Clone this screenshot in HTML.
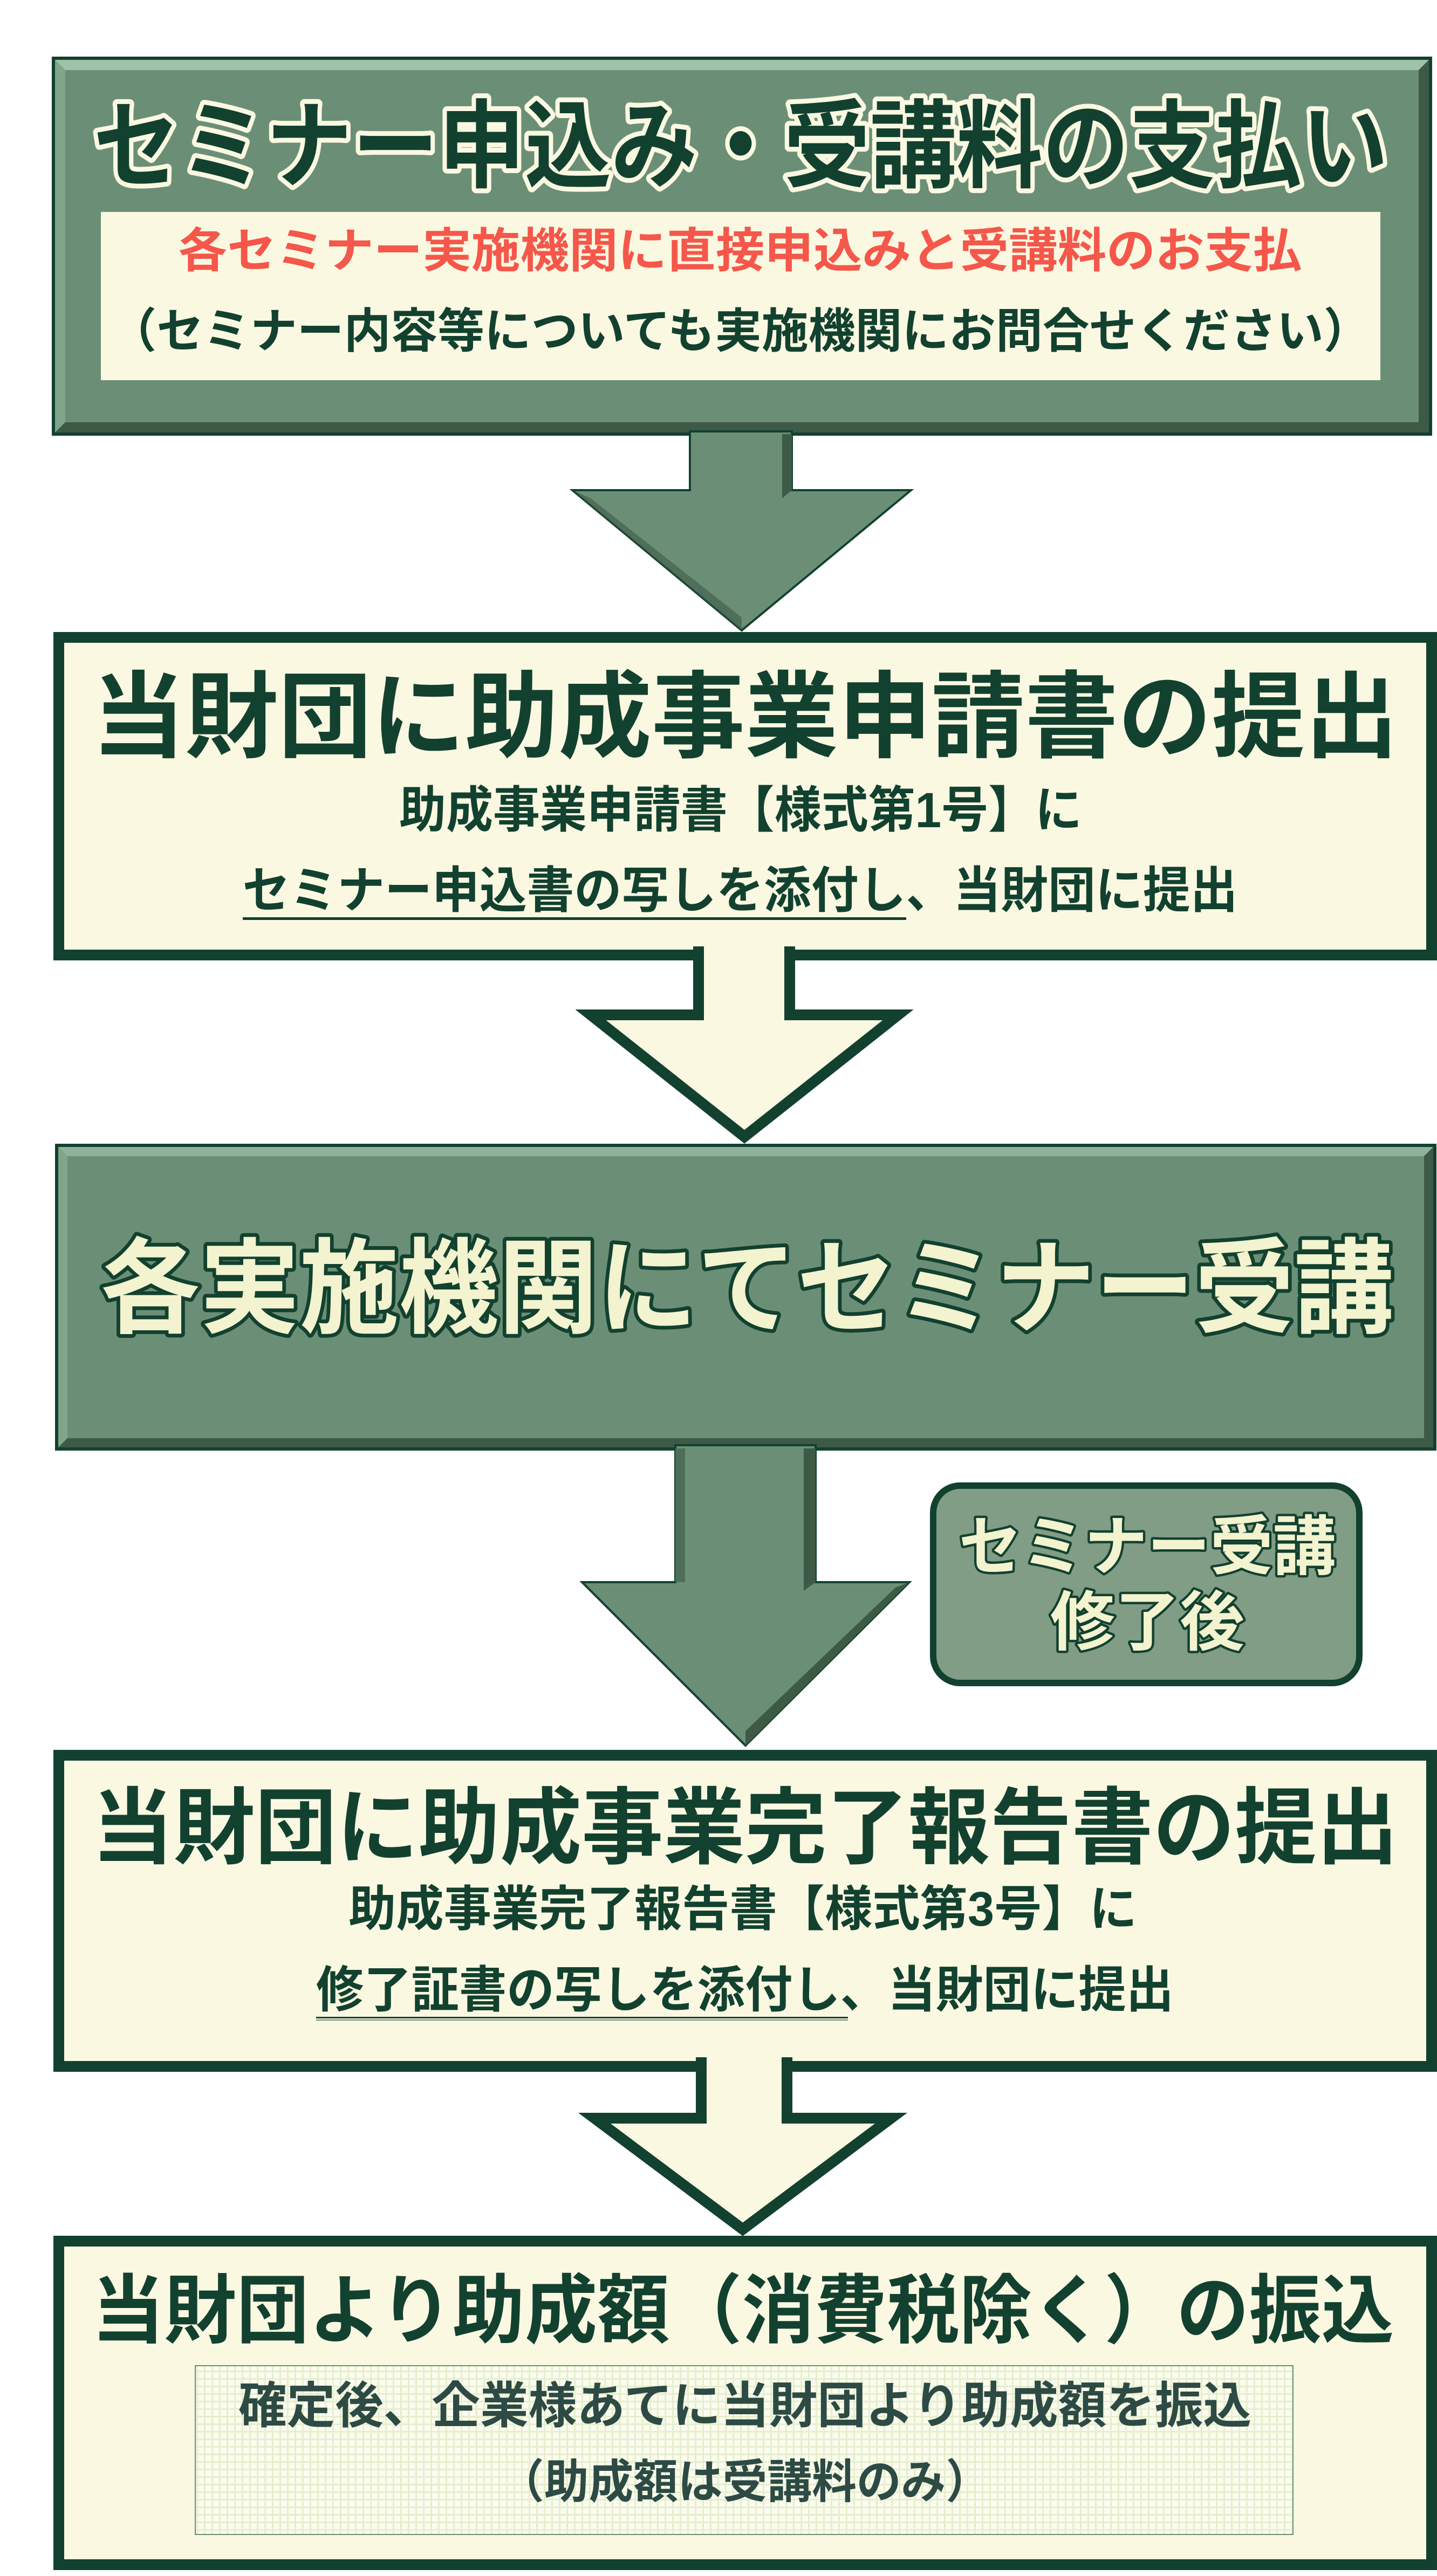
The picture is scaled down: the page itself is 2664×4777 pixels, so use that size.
<!DOCTYPE html>
<html><head><meta charset="utf-8"><style>
html,body{margin:0;padding:0;background:#fff;}
svg{display:block;}
text{font-family:"Liberation Sans","Noto Sans CJK JP",sans-serif;font-weight:700;}
</style></head><body>
<svg width="2664" height="4777" viewBox="0 0 2664 4777" xmlns="http://www.w3.org/2000/svg">
<defs>
<pattern id="grid" width="14" height="14" patternUnits="userSpaceOnUse">
<rect width="14" height="14" fill="#fbfbef"/>
<rect width="14" height="3" fill="#e5efcc"/>
<rect width="3" height="14" fill="#e5efcc"/>
</pattern>
</defs>

<!-- Box 1 -->
<rect x="99" y="108" width="2553" height="697" fill="#6b8f76" stroke="#12412f" stroke-width="6"/>
<polygon points="102,111 2649,111 2630,130 121,130" fill="#9dc3a9"/>
<polygon points="102,111 121,130 121,783 102,802" fill="#7fa58b"/>
<polygon points="2649,111 2649,802 2630,783 2630,130" fill="#3d5a47"/>
<polygon points="102,802 2649,802 2630,783 121,783" fill="#3d5a47"/>
<rect x="187" y="393" width="2372" height="312" fill="#fbf8e2"/>
<text x="1373" y="272" font-size="178" text-anchor="middle" dominant-baseline="central" textLength="2400" lengthAdjust="spacingAndGlyphs" fill="#12412f" stroke="#fbf8e2" stroke-width="18" stroke-linejoin="round" paint-order="stroke">セミナー申込み・受講料の支払い</text>
<text x="1372" y="465" font-size="88" text-anchor="middle" dominant-baseline="central" textLength="2083" lengthAdjust="spacingAndGlyphs" fill="#f5574a" font-weight="400">各セミナー実施機関に直接申込みと受講料のお支払</text>
<text x="1372" y="614" font-size="88" text-anchor="middle" dominant-baseline="central" textLength="2337" lengthAdjust="spacingAndGlyphs" fill="#12412f" font-weight="400">（セミナー内容等についても実施機関にお問合せください）</text>

<!-- Arrow 1 -->
<polygon points="1279,800 1279,909 1061,909 1375,1169 1689,909 1468,909 1468,800" fill="#6b8f76" stroke="#12412f" stroke-width="4"/>
<polygon points="1450,805 1468,805 1468,909 1450,924" fill="#3d5a47"/>
<polygon points="1061,909 1375,1169 1375,1145 1095,924" fill="#3d5a47" opacity="0.6"/>

<!-- Box 2 -->
<rect x="109" y="1182" width="2545" height="589" fill="#fbf8e2" stroke="#12412f" stroke-width="20"/>
<text x="1381" y="1331" font-size="175" text-anchor="middle" dominant-baseline="central" textLength="2422" lengthAdjust="spacingAndGlyphs" fill="#12412f">当財団に助成事業申請書の提出</text>
<text x="1373" y="1503" font-size="92" text-anchor="middle" dominant-baseline="central" textLength="1266" lengthAdjust="spacingAndGlyphs" fill="#12412f" font-weight="500">助成事業申請書【様式第1号】に</text>
<text x="1372" y="1652" font-size="92" text-anchor="middle" dominant-baseline="central" textLength="1845" lengthAdjust="spacingAndGlyphs" fill="#12412f" font-weight="500">セミナー申込書の写しを添付し、当財団に提出</text>
<rect x="450" y="1701" width="1230" height="5" fill="#12412f"/>

<!-- Arrow 2 -->
<polygon points="1295,1765 1295,1882 1095,1882 1380,2108 1665,1882 1464,1882 1464,1765" fill="#fbf8e2" stroke="#12412f" stroke-width="20" stroke-linejoin="miter"/>
<rect x="1305" y="1755" width="149" height="45" fill="#fbf8e2"/>

<!-- Box 3 -->
<rect x="105" y="2124" width="2555" height="563" fill="#6b8f76" stroke="#12412f" stroke-width="6"/>
<polygon points="108,2127 2657,2127 2640,2144 125,2144" fill="#8fb39a"/>
<polygon points="108,2127 125,2144 125,2667 108,2684" fill="#7fa58b"/>
<polygon points="2657,2127 2657,2684 2640,2667 2640,2144" fill="#3d5a47"/>
<polygon points="108,2684 2657,2684 2640,2667 125,2667" fill="#3d5a47"/>
<text x="1385" y="2390" font-size="192" text-anchor="middle" dominant-baseline="central" textLength="2397" lengthAdjust="spacingAndGlyphs" fill="#f3f3cf" stroke="#12412f" stroke-width="14" stroke-linejoin="round" paint-order="stroke">各実施機関にてセミナー受講</text>

<!-- Arrow 3 -->
<polygon points="1252,2680 1252,2934 1079,2934 1382,3237 1686,2934 1512,2934 1512,2680" fill="#6b8f76" stroke="#12412f" stroke-width="4"/>
<polygon points="1252,2686 1270,2686 1270,2934 1252,2934" fill="#4f6e5a"/>
<polygon points="1490,2686 1512,2686 1512,2934 1490,2950" fill="#3d5a47"/>
<polygon points="1686,2934 1382,3237 1382,3210 1660,2944" fill="#3d5a47"/>

<!-- Label box -->
<rect x="1730" y="2755" width="790" height="366" rx="50" ry="50" fill="#819d86" stroke="#12412f" stroke-width="12"/>
<text x="2127" y="2869" font-size="120" text-anchor="middle" dominant-baseline="central" textLength="699" lengthAdjust="spacingAndGlyphs" fill="#f3f3cf" stroke="#12412f" stroke-width="9" stroke-linejoin="round" paint-order="stroke">セミナー受講</text>
<text x="2127" y="3009" font-size="120" text-anchor="middle" dominant-baseline="central" fill="#f3f3cf" stroke="#12412f" stroke-width="9" stroke-linejoin="round" paint-order="stroke">修了後</text>

<!-- Box 4 -->
<rect x="109" y="3255" width="2545" height="577" fill="#fbf8e2" stroke="#12412f" stroke-width="20"/>
<text x="1381" y="3390" font-size="155" text-anchor="middle" dominant-baseline="central" textLength="2422" lengthAdjust="spacingAndGlyphs" fill="#12412f">当財団に助成事業完了報告書の提出</text>
<text x="1377" y="3541" font-size="90" text-anchor="middle" dominant-baseline="central" textLength="1462" lengthAdjust="spacingAndGlyphs" fill="#12412f" font-weight="500">助成事業完了報告書【様式第3号】に</text>
<text x="1381" y="3691" font-size="92" text-anchor="middle" dominant-baseline="central" textLength="1590" lengthAdjust="spacingAndGlyphs" fill="#12412f" font-weight="500">修了証書の写しを添付し、当財団に提出</text>
<rect x="586" y="3740" width="986" height="3" fill="#12412f"/>
<rect x="586" y="3745" width="986" height="2" fill="#6b8f76"/>

<!-- Arrow 4 -->
<polygon points="1300,3825 1300,3928 1102,3928 1377,4134 1652,3928 1459,3928 1459,3825" fill="#fbf8e2" stroke="#12412f" stroke-width="20"/>
<rect x="1310" y="3815" width="139" height="45" fill="#fbf8e2"/>

<!-- Box 5 -->
<rect x="109" y="4156" width="2545" height="600" fill="#fbf8e2" stroke="#12412f" stroke-width="20"/>
<text x="1377" y="4285" font-size="140" text-anchor="middle" dominant-baseline="central" textLength="2414" lengthAdjust="spacingAndGlyphs" fill="#12412f">当財団より助成額（消費税除く）の振込</text>
<rect x="362" y="4387" width="2035" height="313" fill="url(#grid)" stroke="#6b8f76" stroke-width="2"/>
<text x="1381" y="4462" font-size="92" text-anchor="middle" dominant-baseline="central" textLength="1878" lengthAdjust="spacingAndGlyphs" fill="#2d4a44">確定後、企業様あてに当財団より助成額を振込</text>
<text x="1381" y="4603" font-size="86" text-anchor="middle" dominant-baseline="central" textLength="910" lengthAdjust="spacingAndGlyphs" fill="#2d4a44">（助成額は受講料のみ）</text>
</svg>
</body></html>
